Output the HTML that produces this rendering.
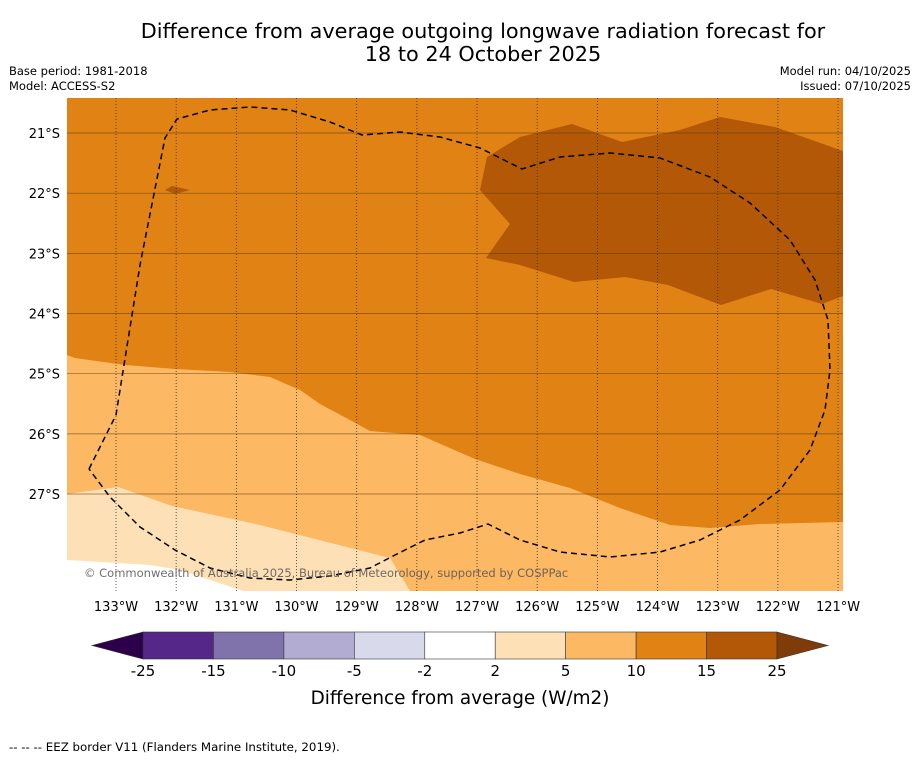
<!DOCTYPE html>
<html><head><meta charset="utf-8">
<style>
body{margin:0;background:#fff;font-family:"Liberation Sans","DejaVu Sans",sans-serif;}
svg text{font-family:"DejaVu Sans","Liberation Sans",sans-serif;}
</style></head>
<body>
<svg id="chart" width="919" height="758" viewBox="0 0 919 758" xmlns="http://www.w3.org/2000/svg">
<rect width="919" height="758" fill="#fff"/>
<text x="483" y="38" font-size="20.8" text-anchor="middle">Difference from average outgoing longwave radiation forecast for</text>
<text x="483" y="61" font-size="20.8" text-anchor="middle">18 to 24 October 2025</text>
<text x="9" y="75" font-size="11.5">Base period: 1981-2018</text>
<text x="9" y="90" font-size="11.5">Model: ACCESS-S2</text>
<text x="911" y="75" font-size="11.5" text-anchor="end">Model run: 04/10/2025</text>
<text x="911" y="90" font-size="11.5" text-anchor="end">Issued: 07/10/2025</text>
<defs><clipPath id="mapclip"><rect x="67" y="98" width="776" height="493"/></clipPath></defs>
<g id="map" clip-path="url(#mapclip)">
  <rect x="67" y="98" width="776" height="493" fill="#fdb863"/>
  <polygon fill="#e08214" points="67,98 843,98 843,522 760,524 710,528 670,525 620,508 570,488 520,474 475,459 420,435 370,431 350,420 320,404 300,390 270,377 230,372 175,369 125,365 75,358 67,355"/>
  <polygon fill="#b35806" points="480,190 487,157 520,137 572,124 622,142 680,130 720,117 775,127 843,151 843,296 822,304 771,289 721,305 668,285 625,277 574,282 520,265 486,258 510,224"/>
  <polygon fill="#b35806" points="165,190 172,186 190,190 175,194"/>
  <polygon fill="#fee0b6" points="67,494 118,487 172,506 260,525 390,558 410,591 67,591"/>
  <polygon fill="#ffffff" points="67,560 150,565 180,570 243,591 67,591"/>
  <g id="grid"></g>
  <polyline fill="none" stroke="#000" stroke-width="1.5" stroke-dasharray="6,4" points="89,469 116,415 140,265 165,138 177,119 210,110 250,107 290,110 330,122 362,135 400,132 440,137 480,148 522,169 560,157 610,153 660,158 710,177 750,203 790,240 815,280 828,320 830,370 825,410 810,450 780,490 740,520 700,540 660,552 610,557 560,552 520,540 488,524 460,533 425,540 395,555 370,568 330,576 290,580 250,578 210,568 175,550 140,527 110,497 89,469"/>
  <text x="84" y="577" font-size="11.5" fill="#555" fill-opacity="0.85">© Commonwealth of Australia 2025, Bureau of Meteorology, supported by COSPPac</text>
</g>
<g id="axes"></g>
<g id="cbar"></g>
<text x="460" y="704" font-size="18.4" text-anchor="middle">Difference from average (W/m2)</text>
<text x="9" y="751" font-size="11.8">--  --  -- EEZ border V11 (Flanders Marine Institute, 2019).</text>
</svg>
<script>
const lonTicks=[133,132,131,130,129,128,127,126,125,124,123,122,121];
const latTicks=[21,22,23,24,25,26,27];
const levels=[-25,-15,-10,-5,-2,2,5,10,15,25];
const colors=["#542788","#8073ac","#b2abd2","#d8daeb","#ffffff","#fee0b6","#fdb863","#e08214","#b35806"];
const underColor="#2d004b", overColor="#7f3b08";
const NS="http://www.w3.org/2000/svg";
const pxPerDeg=60.17;
function xLon(w){return 116+(133-w)*pxPerDeg;}
function yLat(s){return 133+(s-21)*pxPerDeg;}
function mk(tag,attrs,parent){const e=document.createElementNS(NS,tag);for(const k in attrs)e.setAttribute(k,attrs[k]);parent.appendChild(e);return e;}
const grid=document.getElementById('grid'), axes=document.getElementById('axes'), cbar=document.getElementById('cbar');
lonTicks.forEach(w=>{
  const x=xLon(w);
  const l=mk('line',{x1:x,x2:x,y1:98,y2:591,stroke:'#333','stroke-width':0.8,'stroke-dasharray':'1,2'},grid);
  
  
  const t=mk('text',{x:x,y:611,'font-size':13,'text-anchor':'middle'},axes);
  t.textContent=w+'°W';
  
  
});
latTicks.forEach(s=>{
  const y=yLat(s);
  const l=mk('line',{x1:67,x2:843,y1:y,y2:y,stroke:'#5a3a10','stroke-width':0.7,'stroke-opacity':0.7},grid);
  
  
  const t=mk('text',{x:60,y:y+5,'font-size':13,'text-anchor':'end'},axes);
  t.textContent=s+'°S';
  
  
});
const cx0=143,cx1=777,cy=632,ch=27;
const segW=(cx1-cx0)/colors.length;
colors.forEach((c,i)=>{
  const r=mk('rect',{x:cx0+i*segW,y:cy,width:segW,height:ch,fill:c,stroke:'#333','stroke-width':0.6},cbar);
  
  
});
const lt=mk('polygon',{points:`${cx0},${cy} 92,${cy+ch/2} ${cx0},${cy+ch}`,fill:underColor,stroke:'#333','stroke-width':0.6},cbar);


const rt=mk('polygon',{points:`${cx1},${cy} 828,${cy+ch/2} ${cx1},${cy+ch}`,fill:overColor,stroke:'#333','stroke-width':0.6},cbar);


levels.forEach((v,i)=>{
  const t=mk('text',{x:cx0+i*segW,y:676,'font-size':15,'text-anchor':'middle'},cbar);
  t.textContent=v;
  
  
});
</script>
</body></html>
